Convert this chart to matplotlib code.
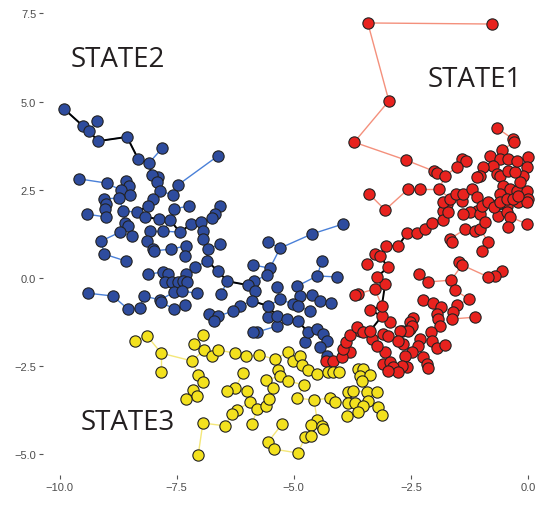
import matplotlib
matplotlib.use("Agg")
import matplotlib.pyplot as plt
from matplotlib.collections import LineCollection
import numpy as np

# 主干轨迹（黑线），先 STATE2 后 STATE1
blue_path_x = [-9.90, -9.50, -9.37, -9.18, -8.56, -8.32, -8.09, -8.03, -7.92, -7.85, -8.00, -8.11, -8.35,
               -8.17, -7.88, -7.64, -7.43, -7.19, -6.98, -6.94, -6.94, -6.83, -6.85, -6.62, -6.42, -5.98,
               -5.83, -5.89, -5.55, -5.36, -5.14, -4.91, -4.70, -4.50, -4.38, -4.29, -4.44, -4.29]
blue_path_y = [4.79, 4.31, 4.17, 3.88, 4.00, 3.37, 3.26, 2.92, 2.72, 2.47, 2.24, 2.04, 1.87,
               1.73, 1.67, 1.64, 1.30, 1.53, 1.59, 1.33, 1.11, 0.82, 0.48, 0.20, -0.09, -0.20,
               -0.37, -0.65, -0.79, -1.08, -1.16, -1.22, -1.53, -1.45, -1.59, -1.79, -1.96, -2.21]
red_path_x = [-4.16, -3.97, -3.95, -3.88, -3.80, -3.65, -3.52, -3.37, -3.12, -3.37, -3.12, -3.05, -3.22,
              -2.99, -3.16, -3.03, -2.77, -2.58, -2.37, -2.20, -2.05, -1.81, -1.71, -1.81, -1.66, -1.54,
              -1.39, -1.20, -1.09, -0.98, -0.85, -0.73, -0.60, -0.45, -0.32, -0.21, -0.17, -0.28, -0.23]
red_path_y = [-2.35, -2.24, -2.01, -1.81, -1.62, -1.39, -1.53, -1.50, -1.08, -0.91, -0.79, -0.17, 0.03,
              0.31, 0.62, 0.91, 0.91, 1.28, 1.28, 1.39, 1.56, 1.64, 1.87, 2.15, 2.24, 2.38,
              2.38, 2.52, 2.30, 2.04, 2.15, 2.01, 2.15, 2.24, 2.24, 2.32, 2.72, 3.00, 3.32]

# 其余细胞
blue_x = [-9.20, -7.81, -6.62, -7.90, -7.47, -7.58, -7.56, -7.24, -6.57, -6.68, -6.74, -7.79, -8.07, -8.13,
          -8.00, -7.62, -7.30, -6.57, -9.58, -8.99, -8.58, -8.52, -8.69, -8.50, -8.73, -9.05, -9.01, -9.03,
          -9.01, -9.41, -8.64, -8.60, -8.54, -8.71, -8.45, -9.11, -9.05, -8.58, -7.98, -7.32, -7.11, -8.11,
          -7.79, -7.68, -7.30, -7.75, -7.60, -7.47, -7.36, -7.28, -7.56, -7.39, -7.07, -9.39, -8.86, -8.54,
          -8.28, -8.20, -7.85, -7.83, -7.56, -7.32, -6.81, -6.62, -6.70, -3.95, -4.61, -4.40, -4.50, -4.08,
          -4.93, -5.55, -5.29, -5.51, -5.57, -5.87, -5.85, -5.36, -4.87, -5.29, -5.02, -4.91, -4.61, -4.44,
          -4.20, -4.65, -6.15, -6.30, -6.55, -5.55, -5.36, -5.78, -5.87, -4.76]
blue_y = [4.45, 3.68, 3.46, 2.86, 2.64, 2.35, 1.96, 2.04, 2.04, 1.81, 1.70, 1.33, 1.33, 1.05,
          0.82, 0.82, 0.91, 0.96, 2.81, 2.69, 2.75, 2.61, 2.49, 2.35, 2.27, 2.24, 2.10, 1.96,
          1.73, 1.81, 1.90, 1.56, 1.47, 1.30, 1.19, 1.05, 0.68, 0.48, 0.77, 0.62, 0.31, 0.11,
          0.17, 0.11, 0.11, -0.11, -0.11, -0.11, -0.09, -0.11, -0.40, -0.37, -0.43, -0.43, -0.51, -0.88,
          -0.85, -0.51, -0.62, -0.68, -0.88, -0.77, -1.02, -1.08, -1.22, 1.53, 1.25, 0.48, 0.06, 0.03,
          -0.23, 1.02, 0.85, 0.28, 0.09, 0.37, -0.09, -0.26, -0.51, -0.60, -0.74, -0.79, -0.48, -0.65,
          -0.71, -0.94, -0.79, -0.94, -0.45, -1.11, -1.36, -1.53, -1.53, -1.81]

red_x = [-3.42, -0.77, -2.97, -3.71, -2.60, -2.01, -1.94, -1.77, -1.41, -1.32, -1.52, -0.66, -0.32, -0.30,
         -3.39, -3.05, -2.56, -2.31, -1.90, -0.81, -0.55, -0.60, -0.43, 0.00, -0.02, -0.75, -0.96, -1.02,
         -1.09, -0.66, -0.60, -0.43, -0.11, -0.53, -0.38, -0.23, -0.02, 0.00, -0.60, -0.64, -0.45, -0.21,
         -0.02, -1.09, -1.24, -1.39, -1.73, -1.81, -1.41, -1.02, -0.64, -0.45, -0.38, -0.43, -0.02, -1.34,
         -1.13, -1.02, -0.92, -0.85, -1.66, -1.62, -0.98, -0.55, -0.70, -0.85, -1.47, -1.41, -1.64, -1.56,
         -1.26, -1.52, -1.60, -1.62, -1.13, -2.33, -2.13, -2.24, -2.03, -1.86, -1.94, -1.92, -1.88, -2.07,
         -2.05, -1.94, -1.77, -2.45, -2.52, -2.52, -2.69, -2.31, -2.35, -2.67, -2.48, -2.63, -2.24, -2.16,
         -2.13, -2.58, -2.69, -3.27, -3.44, -3.27, -3.63, -3.69, -2.95, -2.48, -2.56, -3.59, -3.33, -3.09,
         -2.99, -2.73, -2.77, -3.05, -3.22, -3.09, -2.95, -2.88, -2.77, -2.99, -3.80, -4.31]
red_y = [7.23, 7.20, 5.02, 3.85, 3.34, 3.03, 2.98, 2.89, 3.37, 3.32, 3.15, 4.25, 3.94, 3.85,
         2.38, 1.93, 2.52, 2.52, 2.52, 3.46, 3.63, 3.37, 3.37, 3.43, 3.15, 3.17, 3.15, 2.89,
         2.86, 2.95, 2.89, 3.03, 2.89, 2.61, 2.52, 2.47, 2.47, 2.24, 2.38, 2.10, 2.04, 2.15,
         2.15, 1.90, 1.87, 1.81, 2.10, 1.90, 2.18, 1.81, 1.76, 1.87, 1.73, 1.45, 1.53, 1.39,
         1.33, 1.39, 1.59, 1.02, 1.11, 1.02, 0.77, 0.20, 0.06, 0.03, 0.45, 0.37, -0.06, -0.34,
         -0.60, -0.77, -0.96, -1.16, -1.11, 0.11, -0.11, -0.62, -0.71, -0.82, -1.02, -1.16, -1.36, -1.53,
         -1.79, -1.98, -1.90, -1.13, -1.25, -1.45, -1.50, -1.73, -1.93, -1.87, -2.10, -2.21, -2.24, -2.44,
         -2.55, -2.52, -2.49, 0.68, 0.40, -0.31, -0.45, -0.48, -1.25, -1.36, -1.50, -1.50, -1.73, -1.59,
         -1.64, -1.50, -1.79, -2.10, -1.93, -2.44, -2.38, -2.52, -2.66, -2.64, -2.10, -2.35]

yellow_x = [-8.39, -8.13, -7.83, -7.83, -7.17, -7.04, -6.94, -7.15, -7.07, -7.30, -6.94, -7.13, -6.92, -6.74,
            -6.62, -6.25, -6.02, -5.74, -5.40, -5.12, -5.02, -4.87, -4.82, -4.70, -4.50, -4.27, -4.16, -4.03,
            -6.08, -5.34, -5.29, -5.12, -4.78, -5.59, -5.44, -6.25, -6.42, -6.00, -5.93, -5.78, -5.59, -5.53,
            -6.21, -6.32, -5.89, -6.47, -6.94, -7.04, -4.93, -4.57, -4.23, -4.12, -3.84, -3.84, -3.86, -4.50,
            -4.63, -4.40, -4.38, -5.25, -4.76, -4.63, -5.55, -5.42, -4.91, -3.63, -3.52, -3.59, -3.37, -3.54,
            -3.74, -3.69, -3.44, -3.22, -3.42, -3.52, -3.63, -3.20, -3.12]
yellow_y = [-1.79, -1.64, -2.13, -2.66, -2.35, -2.75, -2.95, -3.17, -3.34, -3.43, -1.62, -1.87, -2.04, -2.21,
            -2.04, -2.13, -2.21, -2.18, -2.30, -2.10, -2.35, -2.21, -2.47, -2.61, -2.72, -2.66, -2.66, -2.66,
            -2.69, -2.61, -2.78, -2.92, -3.03, -2.89, -3.12, -3.12, -3.20, -3.20, -3.51, -3.71, -3.63, -3.43,
            -3.74, -3.85, -4.14, -4.19, -4.11, -5.02, -3.40, -3.46, -3.40, -3.51, -3.23, -3.54, -3.91, -4.02,
            -4.17, -4.19, -4.28, -4.14, -4.51, -4.48, -4.65, -4.85, -4.96, -2.58, -2.58, -2.78, -2.75, -2.92,
            -3.20, -3.54, -3.23, -3.23, -3.49, -3.63, -3.80, -3.66, -3.88]

state_labels = ["STATE2", "STATE1", "STATE3"]
label_x = [-8.75, -1.13, -8.55]
label_y = [6.21, 5.64, -4.08]

x_ticks = [-10.0, -7.5, -5.0, -2.5, 0.0]
y_ticks = [-5.0, -2.5, 0.0, 2.5, 5.0, 7.5]


def mst_edges(x, y):
    # Prim 最小生成树
    pts = np.column_stack([x, y])
    n = len(pts)
    d = np.hypot(pts[:, None, 0] - pts[None, :, 0], pts[:, None, 1] - pts[None, :, 1])
    in_tree = np.zeros(n, bool)
    in_tree[0] = True
    best = d[0].copy()
    parent = np.zeros(n, int)
    segs = []
    for _ in range(n - 1):
        j = int(np.argmin(np.where(in_tree, np.inf, best)))
        segs.append([pts[parent[j]], pts[j]])
        in_tree[j] = True
        upd = d[j] < best
        best[upd] = d[j][upd]
        parent[upd] = j
    return segs


fig = plt.figure(figsize=(5.41, 5.06), dpi=100)
ax = fig.add_axes([0.0797, 0.0595, 0.918, 0.9294])

states = [
    (blue_x + blue_path_x, blue_y + blue_path_y, "#2E4C9E", "#4A80D8"),
    (red_x + red_path_x, red_y + red_path_y, "#E8221E", "#F4907C"),
    (yellow_x, yellow_y, "#F3E11E", "#F4E77A"),
]

for xs, ys, fill, edge in states:
    ax.add_collection(LineCollection(mst_edges(xs, ys), colors=edge, linewidths=1.0, zorder=1))

ax.plot(blue_path_x + red_path_x, blue_path_y + red_path_y, color="black", lw=1.4, zorder=2)

for xs, ys, fill, edge in states:
    ax.scatter(xs, ys, s=66, c=fill, edgecolors="#222222", linewidths=0.8, zorder=3)

for t, x, y in zip(state_labels, label_x, label_y):
    ax.text(x, y, t, fontsize=20, family="Open Sans", color="#231F20", ha="center", va="center")

ax.set_xlim(-10.35, 0.25)
ax.set_ylim(-5.58, 7.75)
ax.set_xticks(x_ticks, [f"{v:.1f}".replace("-", "\u2212") for v in x_ticks])
ax.set_yticks(y_ticks, [f"{v:.1f}".replace("-", "\u2212") for v in y_ticks])
ax.tick_params(colors="#555555", labelcolor="#4D4D4D", labelsize=8, length=3, width=0.8, pad=2)
for lab in ax.get_xticklabels() + ax.get_yticklabels():
    lab.set_family("Liberation Sans")
for s in ax.spines.values():
    s.set_visible(False)

plt.savefig("out.png", dpi=100)
